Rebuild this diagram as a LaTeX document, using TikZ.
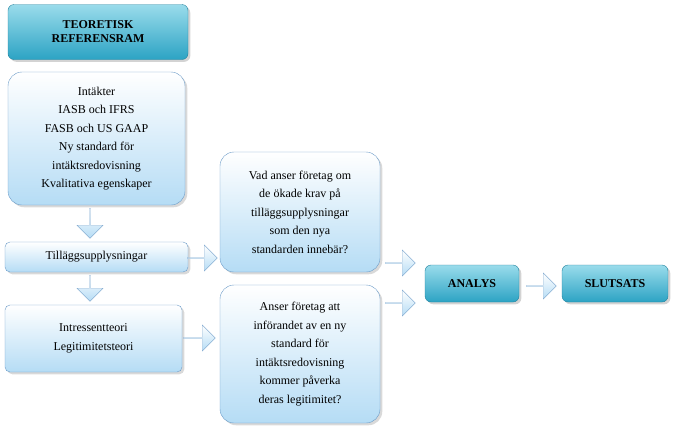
\documentclass[tikz,border=0pt]{standalone}
\usepackage{fontspec}
\setmainfont{Liberation Serif}
\usetikzlibrary{shapes.arrows,shadows}
\definecolor{teal1}{HTML}{9ADCEB}
\definecolor{teal2}{HTML}{2CA3C4}
\definecolor{lb1}{HTML}{FFFFFF}
\definecolor{lb2}{HTML}{B5DCF5}
\definecolor{bord}{HTML}{6B9BC8}
\tikzset{
 tealbox/.style={draw=teal2!80!black,rounded corners=6pt,top color=teal1,bottom color=teal2,font=\fontsize{12}{14}\selectfont\bfseries,align=center,drop shadow={opacity=0.35}},
 bluebox/.style={draw=bord,rounded corners=14pt,top color=lb1,bottom color=lb2,font=\fontsize{12}{18.5}\selectfont,align=center,drop shadow={opacity=0.3}},
 smallbox/.style={draw=bord,rounded corners=5pt,top color=lb1,bottom color=lb2,font=\fontsize{12}{18.5}\selectfont,align=center,drop shadow={opacity=0.3}},
 barrow/.style={single arrow,draw=bord!80,top color=white,bottom color=lb2,minimum height=30pt,minimum width=26pt,single arrow head extend=5pt,inner sep=0pt}
}
\begin{document}
\begin{tikzpicture}[x=1pt,y=-1pt]
\useasboundingbox (0,0) rectangle (678,432);
\node[tealbox,minimum width=180pt,minimum height=55pt] (top) at (98,32) {TEORETISK\\REFERENSRAM};
\node[bluebox,minimum width=177pt,minimum height=133pt] (main) at (96.5,138.5) {Intäkter\\IASB och IFRS\\FASB och US GAAP\\Ny standard för\\intäktsredovisning\\Kvalitativa egenskaper};
\node[smallbox,minimum width=183pt,minimum height=30pt] (till) at (96.5,257) {Tilläggsupplysningar};
\node[smallbox,minimum width=177pt,minimum height=67pt] (intr) at (93.5,338.5) {Intressentteori\\Legitimitetsteori};
\node[bluebox,minimum width=160pt,minimum height=120pt] (q1) at (300,212) {Vad anser företag om\\de ökade krav på\\tilläggsupplysningar\\som den nya\\standarden innebär?};
\node[bluebox,minimum width=160pt,minimum height=138pt] (q2) at (300,354) {Anser företag att\\införandet av en ny\\standard för\\intäktsredovisning\\kommer påverka\\deras legitimitet?};
\node[tealbox,minimum width=94pt,minimum height=37pt] (an) at (472,283.5) {ANALYS};
\node[tealbox,minimum width=106pt,minimum height=37pt] (sl) at (615,283.5) {SLUTSATS};
\node[barrow,shape border rotate=270] (a1) at (90,223) {};
\node[barrow,shape border rotate=270,minimum height=26pt] (a2) at (90,288) {};
\node[barrow,minimum height=30pt] (a3) at (202,258) {};
\node[barrow,minimum height=32pt] (a4) at (199,338) {};
\node[barrow,shape border rotate=-40,minimum height=30pt] (a5) at (400,263) {};
\node[barrow,shape border rotate=40,minimum height=30pt] (a6) at (400,303) {};
\node[barrow,minimum height=30pt] (a7) at (541,286) {};
\end{tikzpicture}
\end{document}
